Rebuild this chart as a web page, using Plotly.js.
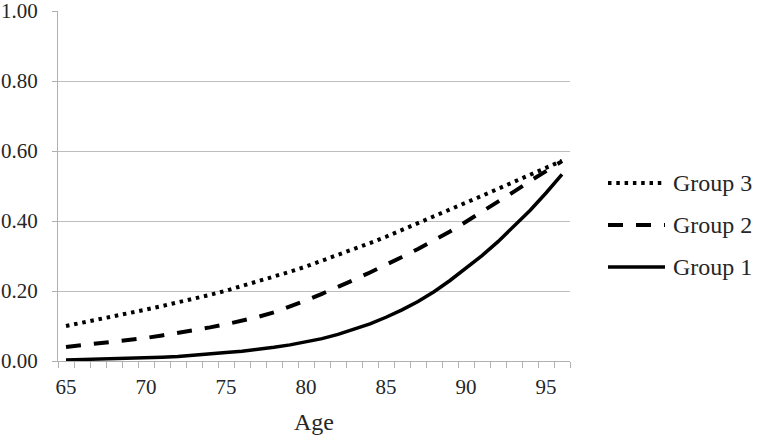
<!DOCTYPE html>
<html>
<head>
<meta charset="utf-8">
<script src="https://cdn.plot.ly/plotly-3.0.1.min.js"></script>
<style>
html,body{margin:0;padding:0;background:#fff;}
#chart{width:760px;height:437px;}
#chart svg text{font-family:"Liberation Serif","Times New Roman",serif !important;}
</style>
</head>
<body>
<div id="chart"></div>
<script>
var ages = [65,66,67,68,69,70,71,72,73,74,75,76,77,78,79,80,81,82,83,84,85,86,87,88,89,90,91,92,93,94,95,96];
var group3 = [0.100,0.109,0.118,0.127,0.137,0.147,0.157,0.167,0.178,0.189,0.201,0.214,0.227,0.241,0.255,0.270,0.286,0.302,0.319,0.337,0.355,0.374,0.393,0.412,0.431,0.452,0.472,0.492,0.512,0.532,0.552,0.572];
var group2 = [0.040,0.045,0.050,0.055,0.060,0.066,0.073,0.080,0.088,0.096,0.105,0.115,0.126,0.139,0.155,0.173,0.192,0.211,0.232,0.253,0.274,0.297,0.320,0.344,0.370,0.398,0.426,0.455,0.484,0.514,0.543,0.571];
var group1 = [0.003,0.004,0.005,0.006,0.008,0.009,0.011,0.013,0.016,0.020,0.024,0.028,0.033,0.039,0.046,0.054,0.064,0.076,0.090,0.106,0.125,0.146,0.170,0.198,0.230,0.264,0.301,0.341,0.384,0.430,0.480,0.533];
var seriesNames = ["Group 3","Group 2","Group 1"];
var xTickLabels = ["65","70","75","80","85","90","95"];
var yTickValues = [0,0.2,0.4,0.6,0.8,1.0];

var xTickVals = xTickLabels.map(Number);
var boundaries = ages.map(function(a){return a-0.5;}).concat([ages[ages.length-1]+0.5]);

var serif = "Liberation Serif, Times New Roman, serif";
var txt = "#262626";
var axisGray = "#b0b0b0";

var styles = [
  {color:"#000", width:4, dash:"3.5px,4.8px"},
  {color:"#000", width:4, dash:"15px,13px"},
  {color:"#000", width:3.5, dash:"solid"}
];
var seriesData = [group3, group2, group1];

var traces = seriesData.map(function(vals, i){
  return {x:ages, y:vals, name:seriesNames[i], mode:"lines", line:styles[i], showlegend:false};
});

// plot area geometry (pixels)
var L = 58, R = 190, T = 11, B = 76, W = 760, H = 437;
var pw = W - L - R, ph = H - T - B;
function px2paperX(p){ return (p - L) / pw; }
function px2paperY(p){ return (H - B - p) / ph; }

// manual legend (line samples + labels)
var legendRowsY = [183, 225, 267];
var shapes = [], annotations = [];
seriesNames.forEach(function(n, i){
  shapes.push({type:"line", xref:"paper", yref:"paper",
    x0:px2paperX(608), x1:px2paperX(665),
    y0:px2paperY(legendRowsY[i]), y1:px2paperY(legendRowsY[i]),
    line:styles[i]});
  annotations.push({xref:"paper", yref:"paper", x:px2paperX(671), y:px2paperY(legendRowsY[i]),
    xanchor:"left", yanchor:"middle", text:n, showarrow:false,
    font:{family:serif, size:24, color:txt}});
});

var layout = {
  width:W, height:H,
  margin:{l:L, r:R, t:T, b:B, pad:0},
  paper_bgcolor:"#fff", plot_bgcolor:"#fff",
  font:{family:serif, color:txt, size:21},
  showlegend:false,
  shapes:shapes, annotations:annotations,
  xaxis:{
    range:[ages[0]-0.5, ages[ages.length-1]+0.5],
    tickmode:"array", tickvals:xTickVals, ticktext:xTickLabels,
    ticks:"", showgrid:false, zeroline:false,
    showline:true, linecolor:axisGray, linewidth:1,
    tickfont:{family:serif, size:21, color:txt},
    ticklabelstandoff:7, ticklabeloverflow:"allow",
    minor:{tickmode:"array", tickvals:boundaries, ticks:"outside", ticklen:6,
           tickcolor:axisGray, tickwidth:1, showgrid:false},
    title:{text:"Age", font:{family:serif, size:24, color:txt}, standoff:14}
  },
  yaxis:{
    range:[0,1], tickmode:"array", tickvals:yTickValues,
    tickformat:".2f", ticks:"outside", ticklen:5, tickcolor:axisGray,
    showgrid:true, gridcolor:"#bdbdbd", gridwidth:1,
    zeroline:false, showline:true, linecolor:axisGray, linewidth:1,
    tickfont:{family:serif, size:21, color:txt},
    ticklabelstandoff:10, ticklabeloverflow:"allow"
  }
};

Plotly.newPlot("chart", traces, layout, {staticPlot:true, displayModeBar:false});
</script>
</body>
</html>
